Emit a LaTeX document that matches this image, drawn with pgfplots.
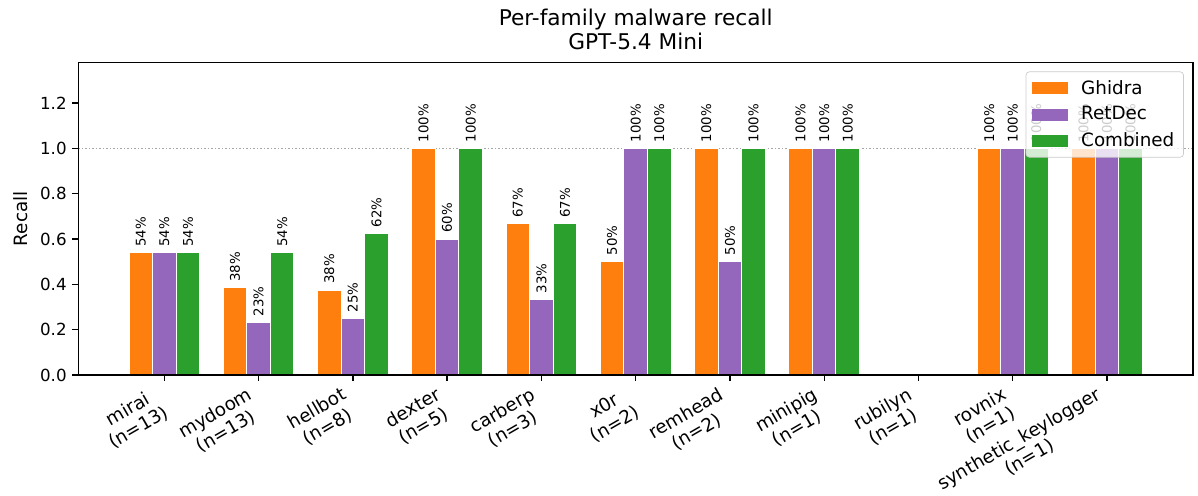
\documentclass[border=0pt]{standalone}
\usepackage{fontspec}
\setmainfont{DejaVu Sans}
\usepackage{pgfplots}
\pgfplotsset{compat=1.18}
\definecolor{cO}{HTML}{FF7F0E}
\definecolor{cP}{HTML}{9467BD}
\definecolor{cG}{HTML}{2CA02C}
\begin{document}
\begin{tikzpicture}
\begin{axis}[
  scale only axis,
  width=668.8pt, height=187.6pt,
  xmin=-0.9125, xmax=10.9125,
  ymin=0, ymax=1.38,
  ybar, bar width=0.25,
  axis on top,
  axis line style={line width=0.8pt},
  tick style={line width=0.8pt, black},
  major tick length=3.5pt,
  tick align=outside,
  xtick pos=lower, ytick pos=left,
  xtick={0,1,2,3,4,5,6,7,8,9,10},
  xticklabels={{mirai\\(n=13)},{mydoom\\(n=13)},{hellbot\\(n=8)},{dexter\\(n=5)},{carberp\\(n=3)},{x0r\\(n=2)},{remhead\\(n=2)},{minipig\\(n=1)},{rubilyn\\(n=1)},{rovnix\\(n=1)},{synthetic\_keylogger\\(n=1)}},
  xticklabel style={xshift=-9pt, rotate=30, anchor=north east, align=center, font=\fontsize{11}{12.5}\selectfont, inner sep=0pt, yshift=-3.5pt},
  ytick={0,0.2,0.4,0.6,0.8,1.0,1.2},
  yticklabel style={/pgf/number format/.cd, fixed, fixed zerofill, precision=1, assume math mode=true},
  ticklabel style={font=\fontsize{10}{12}\selectfont},
  ylabel={Recall},
  ylabel style={at={(axis description cs:-0.052,0.5)}, anchor=center, font=\fontsize{11}{13}\selectfont},
  title={Per-family malware recall\\GPT-5.4 Mini},
  title style={align=center, font=\fontsize{13}{14.4}\selectfont, yshift=-2pt},
  point meta=explicit symbolic,
  nodes near coords={\pgfplotspointmeta\%},
  every node near coord/.append style={rotate=90, anchor=west, font=\fontsize{8}{9}\selectfont, inner xsep=3.5pt, inner ysep=0pt},
  legend style={at={(1,1)}, anchor=north east, xshift=-5.5pt, yshift=-5.5pt, draw=black!20, fill=white, fill opacity=0.8, text opacity=1, rounded corners=2pt, font=\fontsize{11}{13}\selectfont, row sep=2pt, inner xsep=3.5pt, inner ysep=3pt},
  legend cell align=left,
  legend image code/.code={\path (0pt,0pt) -- (27pt,0pt); \fill[#1, draw=none, fill opacity=1, sharp corners] (0pt,-3.6pt) rectangle (21.6pt,3.6pt);},
]
\draw[gray!70, line width=0.8pt, dash pattern=on 0.8pt off 1.3pt] (axis cs:-0.9125,1) -- (axis cs:10.9125,1);
\addplot[fill=cO, draw=white, line width=0.6pt, bar shift=-0.25] coordinates {
 (0,0.5385)[54] (1,0.3846)[38] (2,0.375)[38] (3,1)[100] (4,0.6667)[67] (5,0.5)[50] (6,1)[100] (7,1)[100] (9,1)[100] (10,1)[100]};
\addplot[fill=cP, draw=white, line width=0.6pt, bar shift=0] coordinates {
 (0,0.5385)[54] (1,0.2308)[23] (2,0.25)[25] (3,0.6)[60] (4,0.3333)[33] (5,1)[100] (6,0.5)[50] (7,1)[100] (9,1)[100] (10,1)[100]};
\addplot[fill=cG, draw=white, line width=0.6pt, bar shift=0.25] coordinates {
 (0,0.5385)[54] (1,0.5385)[54] (2,0.625)[62] (3,1)[100] (4,0.6667)[67] (5,1)[100] (6,1)[100] (7,1)[100] (9,1)[100] (10,1)[100]};
\legend{Ghidra,RetDec,Combined}
\coordinate (O) at (rel axis cs:0,0);
\end{axis}
\pgfresetboundingbox
\path (O) ++(-47pt,-72pt) rectangle ++(718.8pt,297pt);
\end{tikzpicture}
\end{document}
